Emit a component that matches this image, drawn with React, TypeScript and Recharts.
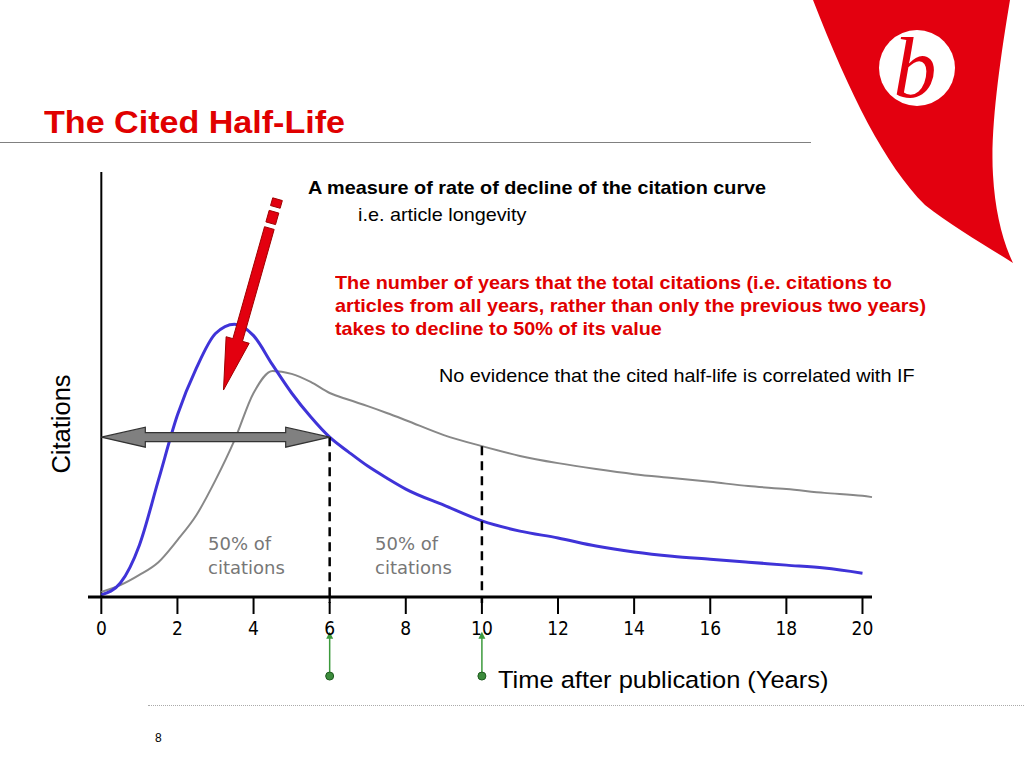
import React from "react";
import { Line, LineChart, ReferenceLine, XAxis, YAxis } from "recharts";

// years after publication
const years = [0, 0.5, 1, 1.5, 2, 2.5, 3, 3.5, 4, 4.5, 5, 5.5, 6, 6.5, 7, 7.5, 8, 9, 10, 11, 12, 13, 14, 15, 16, 17, 18, 19, 20, 20.25];
// blue curve: citations to one year's articles
const yearCitations = [0.5, 3.3, 12.2, 27.5, 42.8, 53.9, 62, 64.2, 61.5, 54.6, 48, 42.4, 37.6, 34.1, 30.8, 28, 25.4, 21.6, 17.9, 15.5, 13.9, 12, 10.6, 9.6, 8.9, 8.2, 7.5, 6.8, 5.6, null];
// grey curve: total citations
const totalCitations = [1.2, 2.8, 5.2, 8.2, 13.4, 19.3, 27.5, 36.9, 48, 53.2, 52.5, 50.6, 48, 46.4, 44.9, 43.3, 41.6, 38.1, 35.5, 33.2, 31.5, 30.1, 28.9, 28, 27.1, 26.1, 25.4, 24.5, 23.8, 23.5];
const xTicks = [0, 2, 4, 6, 8, 10, 12, 14, 16, 18, 20];

const halfLifeYear = 6;
const totalHalfLifeYear = 10;

const data = years.map((year, i) => ({
  year,
  single: yearCitations[i],
  total: totalCitations[i],
}));

const valueAt = (arr: (number | null)[], yr: number) => arr[years.indexOf(yr)] as number;

const sans = "'Liberation Sans', Arial, sans-serif";

// the slide is a little stretched sideways, so text gets the same stretch
const stretched = (left: number, top: number, fontSize: number, lineHeight: number): React.CSSProperties => ({
  position: "absolute",
  left,
  top,
  fontSize,
  lineHeight: `${lineHeight}px`,
  whiteSpace: "pre",
  transform: "scaleX(1.065)",
  transformOrigin: "0 0",
});

const DoubleArrow = (p: any) => {
  const { x1, x2, y1 } = p;
  const head = 44;
  const hh = 10;
  const sh = 4.5;
  const pts = [
    [x1, y1],
    [x1 + head, y1 - hh],
    [x1 + head, y1 - sh],
    [x2 - head, y1 - sh],
    [x2 - head, y1 - hh],
    [x2, y1],
    [x2 - head, y1 + hh],
    [x2 - head, y1 + sh],
    [x1 + head, y1 + sh],
    [x1 + head, y1 + hh],
  ];
  return <polygon points={pts.map((q) => q.join(",")).join(" ")} fill="#808080" stroke="#333" strokeWidth={1.2} />;
};

const RedArrow = (p: any) => {
  const { x1, y1, x2, y2 } = p;
  const dx = x2 - x1;
  const dy = y2 - y1;
  const len = Math.hypot(dx, dy);
  const ux = dx / len;
  const uy = dy / len;
  const nx = -uy;
  const ny = ux;
  const at = (d: number, w: number) => [x1 + ux * d + nx * w, y1 + uy * d + ny * w].join(",");
  const rect = (a: number, b: number, w: number) => [at(a, -w), at(b, -w), at(b, w), at(a, w)].join(" ");
  const headLen = 52;
  const sw = 5;
  const hw = 12;
  const body = [
    at(30, -sw),
    at(len - headLen, -sw),
    at(len - headLen, -hw),
    at(len, 0),
    at(len - headLen, hw),
    at(len - headLen, sw),
    at(30, sw),
  ].join(" ");
  return (
    <g fill="#e3000f" stroke="#a00000" strokeWidth={1}>
      <polygon points={rect(0, 8, sw)} />
      <polygon points={rect(13, 25, sw)} />
      <polygon points={body} />
    </g>
  );
};

const GreenArrow = (p: any) => {
  const { x1, y1, y2 } = p;
  const top = Math.min(y1, y2);
  const bottom = Math.max(y1, y2);
  return (
    <g>
      <line x1={x1} y1={bottom} x2={x1} y2={top + 5} stroke="#3c9a3c" strokeWidth={1.5} />
      <polygon points={`${x1 - 3.5},${top + 7} ${x1 + 3.5},${top + 7} ${x1},${top}`} fill="#3c9a3c" />
      <circle cx={x1} cy={bottom} r={4} fill="#3c8c3c" stroke="#1e5a1e" strokeWidth={1} />
    </g>
  );
};

const DashedDrop = (p: any) => (
  <line x1={p.x1} y1={p.y1} x2={p.x2} y2={p.y2 + 6} stroke="#000" strokeWidth={2.5} strokeDasharray="9 6" />
);

export default function App() {
  return (
    <div style={{ position: "absolute", left: 0, top: 0, width: 1024, height: 768, background: "#fff", overflow: "hidden", fontFamily: sans }}>
      {/* logo */}
      <svg width={1024} height={300} style={{ position: "absolute", left: 0, top: 0 }}>
        <path
          d="M813,0 L1010,0 C1000,60 990,130 993,175 C995,210 1002,240 1013,263 C985,245 950,225 925,205 C885,165 850,95 813,0 Z"
          fill="#e3000f"
        />
        <circle cx={917} cy={68} r={38} fill="#fff" />
        <text x={915} y={97} textAnchor="middle" fontFamily="'Liberation Serif', 'DejaVu Serif', serif" fontStyle="italic" fontSize={86} fill="#e3000f">
          b
        </text>
      </svg>

      <div style={{ ...stretched(44, 106, 32, 32), fontWeight: "bold", color: "#e00000" }}>The Cited Half-Life</div>
      <div style={{ position: "absolute", left: 0, top: 142, width: 811, height: 1, background: "#808080" }} />

      <div style={{ position: "absolute", left: 0, top: 0 }}>
        <LineChart width={1024} height={768} data={data} margin={{ top: 172, right: 152, left: 88, bottom: 131 }}>
          <XAxis
            dataKey="year"
            type="number"
            domain={[-0.35, 20.25]}
            ticks={xTicks}
            height={40}
            tickSize={17}
            tickMargin={8}
            axisLine={{ stroke: "#000", strokeWidth: 3 }}
            tickLine={{ stroke: "#000", strokeWidth: 2 }}
            tick={{ fill: "#000", fontSize: 19, fontFamily: "'DejaVu Sans Condensed', 'DejaVu Sans', sans-serif" }}
          />
          <YAxis hide domain={[0, 100]} />
          <ReferenceLine x={0} stroke="#000" strokeWidth={2} />
          <Line type="monotone" dataKey="total" stroke="#888888" strokeWidth={2} dot={false} isAnimationActive={false} />
          <Line type="monotone" dataKey="single" stroke="#3f33d8" strokeWidth={3} dot={false} isAnimationActive={false} />
          <ReferenceLine
            segment={[{ x: halfLifeYear, y: 0 }, { x: halfLifeYear, y: valueAt(yearCitations, halfLifeYear) }]}
            shape={(p: any) => <DashedDrop x1={p.x1} x2={p.x2} y1={Math.min(p.y1, p.y2)} y2={Math.max(p.y1, p.y2)} />}
            ifOverflow="visible"
          />
          <ReferenceLine
            segment={[{ x: totalHalfLifeYear, y: 0 }, { x: totalHalfLifeYear, y: valueAt(totalCitations, totalHalfLifeYear) }]}
            shape={(p: any) => <DashedDrop x1={p.x1} x2={p.x2} y1={Math.min(p.y1, p.y2)} y2={Math.max(p.y1, p.y2)} />}
            ifOverflow="visible"
          />
          <ReferenceLine
            segment={[{ x: 0, y: valueAt(yearCitations, halfLifeYear) }, { x: halfLifeYear, y: valueAt(yearCitations, halfLifeYear) }]}
            shape={DoubleArrow}
            ifOverflow="visible"
          />
          <ReferenceLine segment={[{ x: 4.63, y: 93.6 }, { x: 3.21, y: 48.7 }]} shape={RedArrow} ifOverflow="visible" />
          <ReferenceLine segment={[{ x: halfLifeYear, y: -18.6 }, { x: halfLifeYear, y: -8.2 }]} shape={GreenArrow} ifOverflow="visible" />
          <ReferenceLine segment={[{ x: totalHalfLifeYear, y: -18.6 }, { x: totalHalfLifeYear, y: -8.2 }]} shape={GreenArrow} ifOverflow="visible" />
        </LineChart>
      </div>

      <div style={{ ...stretched(308, 179, 18.6, 18.6), fontWeight: "bold", color: "#000" }}>
        A measure of rate of decline of the citation curve
      </div>
      <div style={{ ...stretched(358, 206, 18.6, 18.6), color: "#000" }}>i.e. article longevity</div>
      <div style={{ ...stretched(335, 270.5, 18.6, 23.3), fontWeight: "bold", color: "#e00000" }}>
        {"The number of years that the total citations (i.e. citations to\narticles from all years, rather than only the previous two years)\ntakes to decline to 50% of its value"}
      </div>
      <div style={{ ...stretched(439, 367, 18.6, 18.6), color: "#000" }}>No evidence that the cited half-life is correlated with IF</div>

      <div
        style={{
          position: "absolute",
          left: 61,
          top: 424,
          fontSize: 25.5,
          lineHeight: "26px",
          color: "#000",
          whiteSpace: "nowrap",
          transform: "translate(-50%, -50%) rotate(-90deg)",
        }}
      >
        Citations
      </div>

      {[208, 375].map((left) => (
        <div
          key={left}
          style={{ position: "absolute", left, top: 532, fontSize: 18, lineHeight: "24px", color: "#777", fontFamily: "'DejaVu Sans', sans-serif", whiteSpace: "pre" }}
        >
          {"50% of\ncitations"}
        </div>
      ))}

      <div style={{ ...stretched(498, 667.5, 23.9, 23.9), color: "#000" }}>Time after publication (Years)</div>

      <div style={{ position: "absolute", left: 148, top: 705, width: 876, height: 0, borderTop: "1px dotted #aaa" }} />
      <div style={{ position: "absolute", left: 155, top: 732, fontSize: 12, lineHeight: "12px", color: "#000" }}>8</div>
    </div>
  );
}
